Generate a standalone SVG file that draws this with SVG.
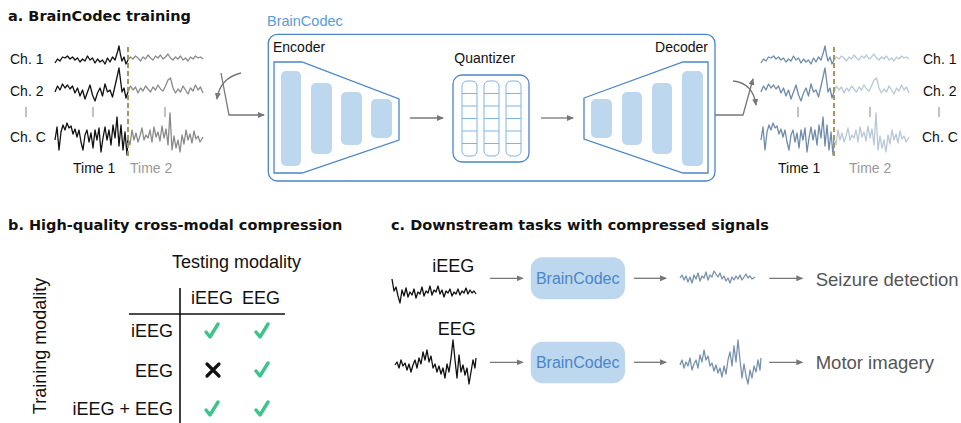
<svg xmlns="http://www.w3.org/2000/svg" width="961" height="423" viewBox="0 0 961 423">
<style>
.title{font-family:"DejaVu Sans",Verdana,sans-serif;font-weight:bold;font-size:14.5px;fill:#111}
.lbl{font-family:"Liberation Sans",Arial,sans-serif;font-size:14px;fill:#111}
.big{font-family:"Liberation Sans",Arial,sans-serif;font-size:18px;fill:#111}
.task{font-family:"Liberation Sans",Arial,sans-serif;font-size:18.5px;fill:#555}
.gray{fill:#999}
.blk{fill:#bdd7ee;stroke:none}
.edge{fill:none;stroke:#4a86c8;stroke-width:1.3}
.qcol{fill:none;stroke:#80b3e6;stroke-width:1}
.arr{fill:none;stroke:#777;stroke-width:1.3;marker-end:url(#ah)}
.tick{stroke:#999;stroke-width:1.2}
.sig{fill:none;stroke-linejoin:round;stroke-width:1.3}
.chk{fill:none;stroke:#3cc48a;stroke-width:3.4;stroke-linecap:round;stroke-linejoin:round}
</style>
<defs>
<marker id="ah" markerWidth="7" markerHeight="6" refX="6" refY="3" orient="auto" markerUnits="userSpaceOnUse">
<path d="M0,0 L7,3 L0,6 Z" fill="#777"/>
</marker>
<polyline id="c1a" points="55,63 57.5,59 60,61 62.5,57 65,58 67.5,56 70,59 72.5,57 75,60 77.5,58 80,62 82.5,59 85,61 87.5,56 90,60 92.5,58 95,63 97.5,59 100,62 102.5,60 105,64 107.5,58 110,62 112.5,57 115,60 117.5,52 119,46 120.5,55 122,61 124,57 126,64 128,60"/>
<polyline id="c1b" points="128,60 130.5,57 133,59 135.5,56 138,58 140.5,61 143,57 145.5,59 148,55 150.5,58 153,60 155.5,56 158,58 160.5,55 163,59 165.5,57 168,54 170.5,58 173,60 175.5,57 178,59 180.5,56 183,60 185.5,58 188,61 190.5,57 193,59 195.5,56 198,58 200.5,57 203,59"/>
<polyline id="c2a" points="55,92 57.5,86 60,90 62.5,84 65,88 67.5,85 70,89 72.5,86 75,93 77.5,88 80,96 82.5,90 85,99 87.5,92 90,85 92.5,95 95,101 97.5,93 100,88 102.5,96 105,84 107.5,92 110,90 112.5,97 115,86 117.5,75 119,68 120.5,80 122,92 124,88 126,98 128,92"/>
<polyline id="c2b" points="128,92 130.5,86 133,90 135.5,87 138,93 140.5,88 143,91 145.5,86 148,89 150.5,92 153,87 155.5,90 158,85 160.5,89 163,91 165.5,86 168,80 170.5,78 173,88 175.5,93 178,89 180.5,92 183,86 185.5,90 188,94 190.5,88 193,91 195.5,85 198,90 200.5,87 203,93"/>
<polyline id="c3a" points="55,140 57,127 59,150 61,132 63,125 65,130 67,123 69,128 71,126 73,134 75,129 77,137 79,130 81,142 83,150 85,135 87,130 89,142 91,133 93,148 95,130 97,140 99,128 101,152 103,138 105,127 107,140 109,130 111,145 113,125 115,138 117,117 119,146 121,125 123,150 125,132 127,155 128,138"/>
<polyline id="c3b" points="128,138 130,145 132,130 134,140 136,133 138,142 140,136 142,128 144,140 146,135 148,138 150,130 152,142 154,127 156,137 158,132 160,141 162,126 164,138 166,129 168,145 170,113 172,150 174,136 176,148 178,140 180,152 182,135 184,144 186,130 188,140 190,134 192,143 194,131 196,139 198,136 200,142 203,137"/>
</defs>

<!-- Panel titles -->
<text class="title" x="8" y="20.5">a. BrainCodec training</text>
<text class="title" x="8" y="230">b. High-quality cross-modal compression</text>
<text class="title" x="391" y="230">c. Downstream tasks with compressed signals</text>

<!-- Input signals -->
<g id="input-signals">
<text class="lbl" x="10" y="64.3">Ch. 1</text>
<text class="lbl" x="10" y="95.7">Ch. 2</text>
<text class="lbl" x="10" y="141.5">Ch. C</text>
<line class="tick" x1="26" y1="107" x2="26" y2="117"/>
<line class="tick" x1="93" y1="107" x2="93" y2="117"/>
<line class="tick" x1="165" y1="107" x2="165" y2="117"/>
<g class="sig" stroke="#111">
<use href="#c1a"/><use href="#c2a"/><use href="#c3a"/>
</g>
<g class="sig" stroke="#8a8a8a">
<use href="#c1b"/><use href="#c2b"/><use href="#c3b"/>
</g>
<line x1="128" y1="47" x2="128" y2="158" stroke="#a8975a" stroke-width="2" stroke-dasharray="5,3"/>
<text class="lbl" x="73" y="173.3">Time 1</text>
<text class="lbl gray" x="130" y="173.3">Time 2</text>
</g>

<!-- BrainCodec model -->
<g id="braincodec">
<text class="lbl" x="267" y="25.7" style="fill:#5b9bd5;font-size:14.5px">BrainCodec</text>
<rect class="edge" x="268.3" y="34.3" width="446.7" height="146.7" rx="9"/>
</g>

<g id="encoder">
<text class="lbl" x="273" y="51.7">Encoder</text>
<polygon class="edge" points="274,62 302,62 399,99 399,140 302,173 274,173"/>
<rect class="blk" x="281" y="71" width="20" height="95" rx="5"/>
<rect class="blk" x="311" y="83" width="21" height="71" rx="5"/>
<rect class="blk" x="341" y="92" width="21" height="53" rx="5"/>
<rect class="blk" x="371" y="99" width="21" height="39" rx="5"/>
</g>

<g id="quantizer">
<text class="lbl" x="484.7" y="63" text-anchor="middle">Quantizer</text>
<rect class="edge" x="453" y="75" width="76" height="87" rx="9"/>
<g class="qcol">
<rect x="462" y="81" width="15" height="75" rx="5"/>
<rect x="484" y="81" width="15" height="75" rx="5"/>
<rect x="506" y="81" width="15" height="75" rx="5"/>
<path d="M462,93.5H477M462,106H477M462,118.5H477M462,131H477M462,143.5H477 M484,93.5H499M484,106H499M484,118.5H499M484,131H499M484,143.5H499 M506,93.5H521M506,106H521M506,118.5H521M506,131H521M506,143.5H521"/>
</g>
</g>

<g id="decoder">
<text class="lbl" x="708" y="51.7" text-anchor="end">Decoder</text>
<polygon class="edge" points="584,98 683,62 708,62 708,173 683,173 584,139"/>
<rect class="blk" x="591" y="99" width="21" height="39" rx="5"/>
<rect class="blk" x="622" y="92" width="20" height="53" rx="5"/>
<rect class="blk" x="652" y="83" width="20" height="71" rx="5"/>
<rect class="blk" x="682" y="71" width="21" height="95" rx="5"/>
</g>

<!-- Output signals -->
<g id="output-signals">
<text class="lbl" x="923" y="64.3">Ch. 1</text>
<text class="lbl" x="923" y="95.7">Ch. 2</text>
<text class="lbl" x="922" y="141.5">Ch. C</text>
<line class="tick" x1="798" y1="107" x2="798" y2="117"/>
<line class="tick" x1="870" y1="107" x2="870" y2="117"/>
<line class="tick" x1="939" y1="107" x2="939" y2="117"/>
<g class="sig" stroke="#6f8cab" transform="translate(706,0)">
<use href="#c1a"/><use href="#c2a"/><use href="#c3a"/>
</g>
<g class="sig" stroke="#b9c7d6" transform="translate(706,0)">
<use href="#c1b"/><use href="#c2b"/><use href="#c3b"/>
</g>
<line x1="834" y1="47" x2="834" y2="158" stroke="#a8975a" stroke-width="2" stroke-dasharray="5,3"/>
<text class="lbl" x="778" y="173.3">Time 1</text>
<text class="lbl gray" x="849" y="173.3">Time 2</text>
</g>

<!-- Table b -->
<g id="table">
<text class="big" transform="translate(46,346) rotate(-90)" text-anchor="middle">Training modality</text>
<text class="big" x="236.5" y="268.3" text-anchor="middle">Testing modality</text>
<text class="big" x="191" y="304">iEEG</text>
<text class="big" x="242" y="304">EEG</text>
<text class="big" x="173" y="337.3" text-anchor="end">iEEG</text>
<text class="big" x="173" y="377" text-anchor="end">EEG</text>
<text class="big" x="173" y="415" text-anchor="end">iEEG + EEG</text>
<line x1="180" y1="288" x2="180" y2="423" stroke="#111" stroke-width="1.6"/>
<line x1="129" y1="314" x2="285" y2="314" stroke="#111" stroke-width="1.6"/>
<path class="chk" d="M206,332 L210,337 L218,324"/>
<path class="chk" d="M256,332 L260,337 L268,324"/>
<path class="chk" d="M256,371 L260,376 L268,363"/>
<path class="chk" d="M206,410 L210,415 L218,402"/>
<path class="chk" d="M256,410 L260,415 L268,402"/>
<path d="M207,364 L219,376 M219,364 L207,376" stroke="#111" stroke-width="3.2" stroke-linecap="round"/>
</g>

<!-- Panel c nodes -->
<g id="ieeg-input">
<text class="big" x="474.3" y="271.7" text-anchor="end">iEEG</text>
<polyline class="sig" stroke="#111" points="392,279 394,291 396,287 398,296 400,303 402,290 404,296 406,288 408,297 410,292 412,295 414,289 416,298 418,292 420,294 422,287 424,296 426,291 428,293 430,286 432,295 434,290 436,292 438,286 440,294 442,290 444,297 446,291 448,293 450,289 452,296 454,292 456,294 458,289 460,295 462,291 464,293 466,288 468,294 470,290 472,293 474,291 476,294"/>
</g>
<g id="eeg-input">
<text class="big" x="475.7" y="335" text-anchor="end">EEG</text>
<polyline class="sig" stroke="#111" points="395,365 397,362 399,368 401,360 403,366 405,363 407,370 409,364 411,372 413,365 415,360 417,368 419,358 421,364 423,352 425,360 427,350 429,362 431,356 433,368 435,364 437,372 439,366 441,374 443,368 445,378 447,364 449,372 451,358 453,340 455,360 457,378 459,355 461,372 463,365 465,375 467,368 469,384 471,372 473,360 475,368 476,358"/>
</g>
<g id="codec-1">
<rect class="blk" x="530.7" y="257.3" width="94.3" height="42" rx="12"/>
<text class="lbl" x="577.7" y="284.3" text-anchor="middle" style="font-size:16px;fill:#4a86c8">BrainCodec</text>
</g>
<g id="codec-2">
<rect class="blk" x="530.7" y="341.7" width="94.3" height="41.6" rx="12"/>
<text class="lbl" x="577.7" y="368.3" text-anchor="middle" style="font-size:16px;fill:#4a86c8">BrainCodec</text>
</g>
<g id="ieeg-output">
<polyline class="sig" stroke="#7892ad" points="680,278 682,275 684,280 686,276 688,282 690,277 692,283 694,275 696,279 698,273 700,281 702,276 704,278 706,272 708,280 710,275 712,277 714,271 716,274 718,277 720,273 722,279 724,276 726,281 728,278 730,283 732,277 734,280 736,276 738,279 740,275 742,280 744,277 746,274 748,278 750,276 752,279 755,277"/>
</g>
<g id="eeg-output">
<polyline class="sig" stroke="#7892ad" points="680,365 682,360 684,368 686,362 688,366 690,358 692,370 694,364 696,360 698,368 700,355 702,362 704,350 706,360 708,356 710,366 712,363 714,371 716,365 718,373 720,368 722,377 724,366 726,374 728,360 730,352 732,366 734,346 736,362 738,340 740,360 742,378 744,364 746,376 748,384 750,370 752,378 754,366 756,372 758,360 760,370 761,358"/>
</g>
<g id="seizure-detection"><text class="task" x="815.7" y="285.7">Seizure detection</text></g>
<g id="motor-imagery"><text class="task" x="815.7" y="369">Motor imagery</text></g>

<!-- Connectors -->
<g id="connectors">
<path class="arr" d="M241,73 Q220,78 217,99"/>
<path class="arr" d="M221,73 L229,115 L264,115"/>
<path class="arr" d="M410,118 L443,118"/>
<path class="arr" d="M541,118 L573,118"/>
<path class="arr" d="M715,115 L743,115 L753,79"/>
<path class="arr" d="M733,81 Q753,83 756,105"/>
<path class="arr" d="M490,278.3 L522.7,278.3"/>
<path class="arr" d="M634,278.3 L666,278.3"/>
<path class="arr" d="M769.3,278.3 L802.3,278.3"/>
<path class="arr" d="M490,362.3 L522.7,362.3"/>
<path class="arr" d="M634,362.3 L666,362.3"/>
<path class="arr" d="M769.3,362.3 L802.3,362.3"/>
</g>
</svg>
